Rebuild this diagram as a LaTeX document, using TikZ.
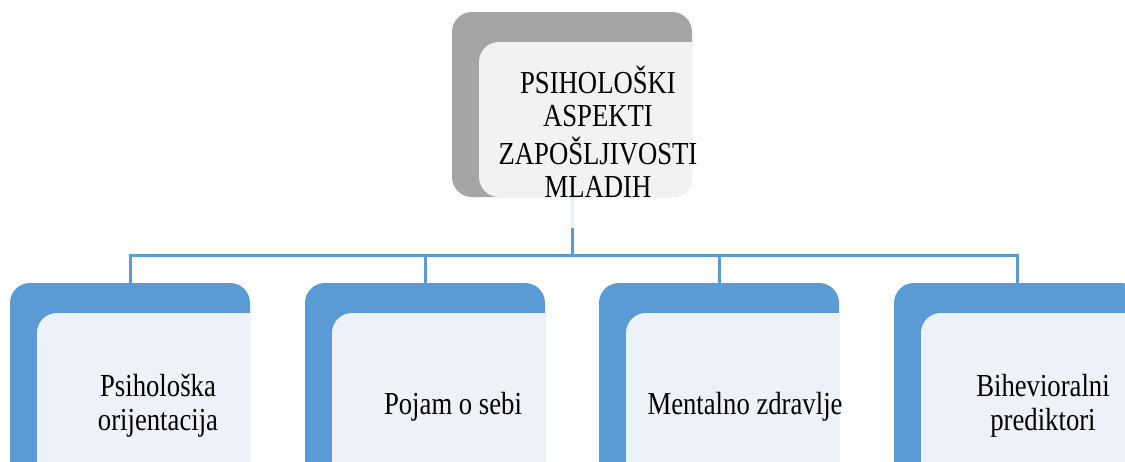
\documentclass[tikz,border=0pt]{standalone}
\usepackage{fontspec}
\setmainfont{Liberation Serif}
\definecolor{greyback}{HTML}{A5A5A5}
\definecolor{greyfront}{HTML}{F2F2F2}
\definecolor{blueback}{HTML}{5B9BD5}
\definecolor{bluefront}{HTML}{EDF2F9}
\definecolor{faintline}{HTML}{E8EFF8}
\newcommand{\lbl}[1]{\scalebox{1}[1.2]{\fontsize{26.7}{27.8}\selectfont\begin{tabular}{@{}c@{}}#1\end{tabular}}}
\newcommand{\sqcorner}[2]{\fill[#2] ([xshift=-22pt,yshift=-22pt]#1.north east) rectangle (#1.north east);}
\begin{document}
\begin{tikzpicture}[x=1pt,y=-1pt,
  boxshape/.style={rectangle, rounded corners=20pt, draw=none, inner sep=0pt, outer sep=0pt, anchor=north west},
  backbottom/.style={boxshape, fill=blueback, minimum height=200pt},
  frontbottom/.style={boxshape, fill=bluefront, minimum width=213pt, minimum height=170pt},
  txt/.style={inner sep=0pt, text=black},
  conn/.style={draw=blueback, line width=3pt},
  faint/.style={draw=faintline, line width=3pt}]
\clip (0,0) rectangle (1125,461);
\fill[white] (0,0) rectangle (1125,461);
% top box
\node[boxshape, fill=greyback, minimum width=240pt, minimum height=185pt] (topback) at (452,12) {};
\node[boxshape, fill=greyfront, minimum width=213pt, minimum height=155pt] (topfront) at (479,42) {};
\sqcorner{topfront}{greyfront}
\node[txt] (ttop) at (598,137) {\lbl{PSIHOLOŠKI\\ASPEKTI\\ZAPOŠLJIVOSTI\\MLADIH}};
% bottom boxes
\node[backbottom, minimum width=240pt] (b1) at (10,283) {};
\node[frontbottom] (f1) at (37,313) {};
\sqcorner{f1}{bluefront}
\node[backbottom, minimum width=240pt] (b2) at (305,283) {};
\node[frontbottom] (f2) at (332,313) {};
\sqcorner{f2}{bluefront}
\node[backbottom, minimum width=240pt] (b3) at (599,283) {};
\node[frontbottom] (f3) at (626,313) {};
\sqcorner{f3}{bluefront}
\node[backbottom, minimum width=246pt] (b4) at (894,283) {};
\node[frontbottom, minimum width=219pt] (f4) at (921,313) {};
\sqcorner{f4}{bluefront}
\node[txt] (t1) at (158,407) {\lbl{Psihološka\\orijentacija}};
\node[txt] (t2) at (453,408) {\lbl{Pojam o sebi}};
\node[txt] (t3) at (745,408) {\lbl{Mentalno zdravlje}};
\node[txt] (t4) at (1043,407) {\lbl{Bihevioralni\\prediktori}};
% connectors
\coordinate (mid) at (572,228);
\coordinate (hub) at (572,255);
\draw[faint] (topback.south) -- (mid);
\draw[conn] (mid) -- (hub);
\draw[conn] (hub) -| (b1.north);
\draw[conn] (hub) -| (b2.north);
\draw[conn] (hub) -| (b3.north);
\draw[conn] (hub) -| (b4.north);
\end{tikzpicture}
\end{document}
